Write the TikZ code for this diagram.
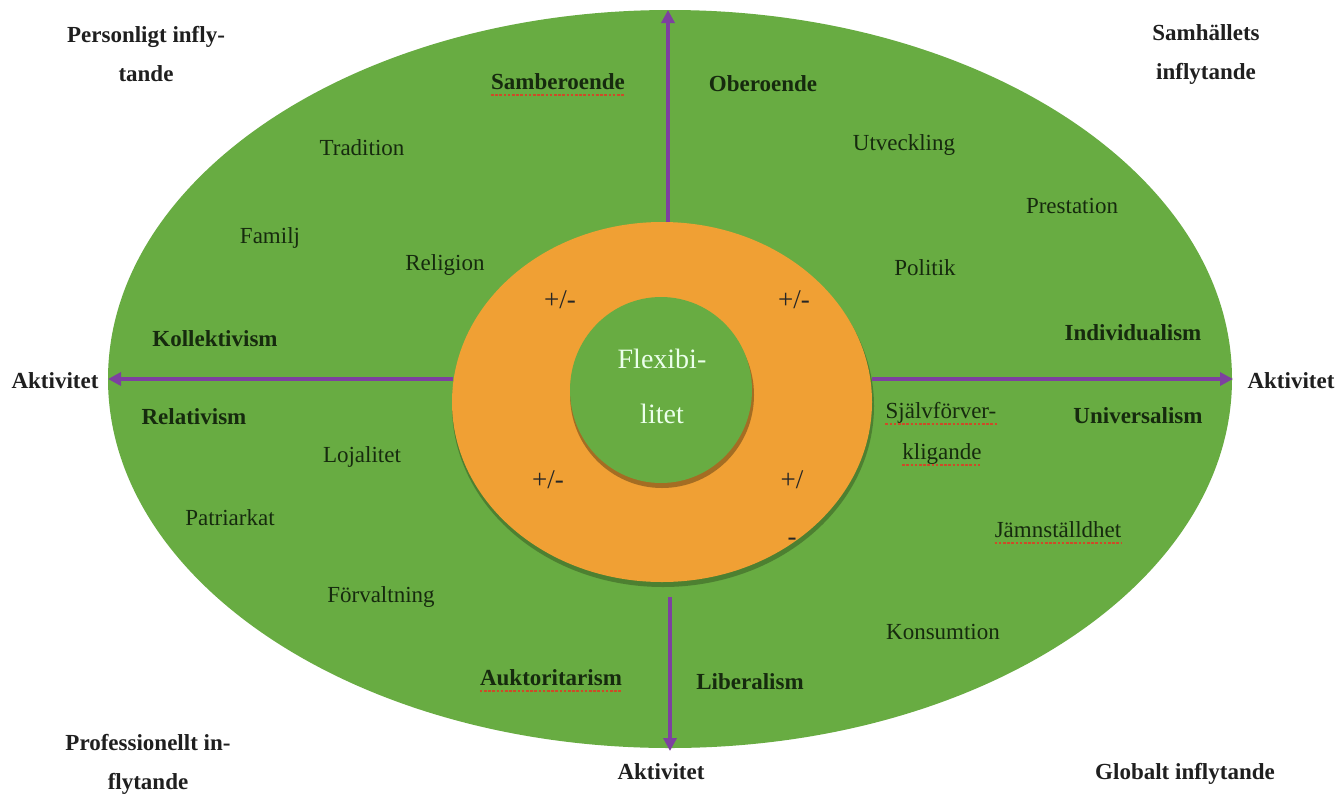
\documentclass[tikz,border=0pt]{standalone}
\usepackage{fontspec}
\setmainfont{Liberation Serif}
\usetikzlibrary{arrows.meta}
\definecolor{grass}{RGB}{104,172,66}
\definecolor{orng}{RGB}{240,160,52}
\definecolor{purp}{RGB}{125,65,160}
\definecolor{ink}{RGB}{22,42,14}
\definecolor{spell}{RGB}{205,75,40}
\begin{document}
\begin{tikzpicture}[x=1pt,y=-1pt,
  lbl/.style={font=\fontsize{23}{26}\selectfont, text=ink, inner sep=0pt, text height=15pt, text depth=0pt},
  blbl/.style={lbl, font=\fontsize{23}{26}\selectfont\bfseries},
  outer/.style={font=\fontsize{23}{39}\selectfont\bfseries, text=black!88, align=center, inner sep=0pt},
  single/.style={outer, text height=15pt, text depth=0pt},
  pm/.style={font=\fontsize{27}{30}\selectfont, text=black!85, inner sep=0pt, text height=17pt, text depth=0pt},
  flex/.style={font=\fontsize{28}{55}\selectfont, text=white!92!green, align=center, inner sep=0pt},
  axis/.style={purp, line width=4.2pt, -{Triangle[length=13pt,width=13pt]}},
  wavy/.style={spell, line width=1.8pt, dash pattern=on 2.6pt off 1.6pt}]
\useasboundingbox (0,0) rectangle (1341,796);
\fill[white] (0,0) rectangle (1341,796);
% outer green field
\fill[grass] (670,379) ellipse [x radius=562, y radius=369];
% orange ring with shadow
\fill[black, opacity=0.25] (663,406) ellipse [x radius=211, y radius=181];
\fill[orng] (662,402) ellipse [x radius=210, y radius=180];
% inner circle with shadow
\fill[black!70!orng, opacity=0.45] (662,395) ellipse [x radius=92, y radius=93];
\fill[grass] (661,390) ellipse [x radius=91, y radius=93];
% axes
\coordinate (oT) at (668,222); \coordinate (eT) at (668,10);
\coordinate (oL) at (453,379); \coordinate (eL) at (108,379);
\coordinate (oR) at (872,379); \coordinate (eR) at (1233,379);
\coordinate (oB) at (670,597); \coordinate (eB) at (670,751);
\draw[axis] (oT) -- (eT);
\draw[axis] (oL) -- (eL);
\draw[axis] (oR) -- (eR);
\draw[axis] (oB) -- (eB);
% corner labels
\node[outer] (pers) at (146,54) {Personligt infly-\\tande};
\node[outer] (samh) at (1206,54) {Samhällets\\inflytande};
\node[outer] (prof) at (148,764) {Professionellt in-\\flytande};
\node[single] (glob) at (1185,772) {Globalt inflytande};
% axis end labels
\node[single] (aL) at (55,381) {Aktivitet};
\node[single] (aR) at (1291,381) {Aktivitet};
\node[single] (aB) at (661,772) {Aktivitet};
% quadrant headings
\node[blbl] (samb) at (558,82) {Samberoende};
\node[blbl] (ober) at (763,84) {Oberoende};
\node[blbl] (koll) at (215,339) {Kollektivism};
\node[blbl] (indi) at (1133,333) {Individualism};
\node[blbl] (rela) at (194,417) {Relativism};
\node[blbl] (univ) at (1138,416) {Universalism};
\node[blbl] (aukt) at (551,678) {Auktoritarism};
\node[blbl] (libe) at (750,682) {Liberalism};
% values
\node[lbl] (trad) at (362,148) {Tradition};
\node[lbl] (fami) at (270,236) {Familj};
\node[lbl] (reli) at (445,263) {Religion};
\node[lbl] (utve) at (904,143) {Utveckling};
\node[lbl] (pres) at (1072,206) {Prestation};
\node[lbl] (poli) at (925,268) {Politik};
\node[lbl] (loja) at (362,455) {Lojalitet};
\node[lbl] (patr) at (230,518) {Patriarkat};
\node[lbl] (forv) at (381,595) {Förvaltning};
\node[lbl] (sjal1) at (941,411) {Självförver-};
\node[lbl] (sjal2) at (942,452) {kligande};
\node[lbl] (jamn) at (1058,530) {Jämnställdhet};
\node[lbl] (kons) at (943,632) {Konsumtion};
% ring signs
\node[pm] (pm1) at (560,300) {+/-};
\node[pm] (pm2) at (794,300) {+/-};
\node[pm] (pm3) at (548,480) {+/-};
\node[pm] (pm4) at (792,480) {+/};
\node[pm] (pm5) at (792,537) {-};
% centre
\node[flex] (flx) at (662,386) {Flexibi-\\litet};
% spell-check underlines
\foreach \n in {samb,sjal1,sjal2,jamn,aukt}{
  \draw[wavy] ([yshift=-5pt]\n.south west) -- ([yshift=-5pt]\n.south east);
}
\end{tikzpicture}
\end{document}
